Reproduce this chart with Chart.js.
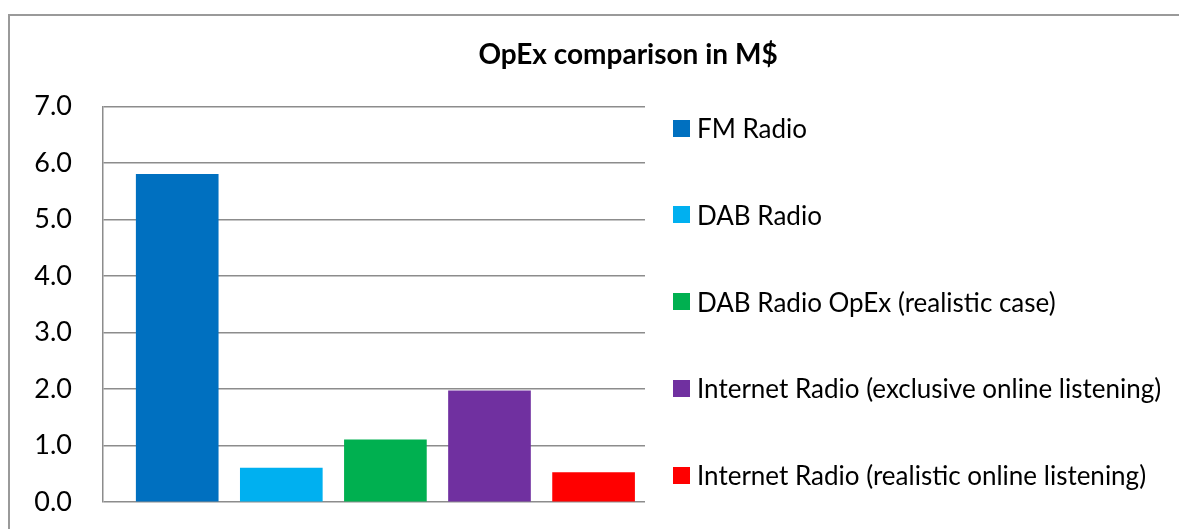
<!DOCTYPE html>
<html lang="en">
<head>
  <meta charset="UTF-8">
  <title>OpEx comparison in M$</title>
  <script src="https://cdn.jsdelivr.net/npm/chart.js@4.4.3/dist/chart.umd.min.js"></script>
  <style>
    html, body { margin: 0; padding: 0; overflow: hidden; background: #fff; }
    body { width: 1179px; height: 529px; position: relative; font-family: Lato, "Noto Sans", sans-serif; }
    #frame { position: absolute; left: 8px; top: 14px; width: 1300px; height: 600px; border-left: 2px solid #9a9a9a; border-top: 2px solid #9a9a9a; }
    #chart { position: absolute; left: 0; top: 0; }
    #legend { position: absolute; left: 673px; top: 0; }
    .item { position: absolute; left: 0; height: 30px; display: flex; align-items: center; white-space: nowrap; font-size: 26px; color: #000; }
    .swatch { width: 17px; height: 17px; margin-right: 7px; flex: none; }
  </style>
</head>
<body>
  <div id="frame"></div>
  <canvas id="chart" width="1266" height="529"></canvas>
  <div id="legend"></div>

  <script>
    // series (one bar each)
    const seriesNames = [
      'FM Radio',
      'DAB Radio',
      'DAB Radio OpEx (realistic case)',
      'Internet Radio (exclusive online listening)',
      'Internet Radio (realistic online listening)'
    ];
    const opexValues = [5.8, 0.6, 1.1, 1.97, 0.52];
    const seriesColors = ['#0070C0', '#00B0F0', '#00B050', '#7030A0', '#FF0000'];
    const yTickMin = 0;
    const yTickMax = 7;
    const yTickStep = 1;

    const datasets = seriesNames.map((name, i) => ({
      label: name,
      data: [{ x: i, y: opexValues[i] }],
      backgroundColor: seriesColors[i],
      borderWidth: 0,
      grouped: false,
      categoryPercentage: 1,
      barPercentage: 1,
      maxBarThickness: 82
    }));

    new Chart(document.getElementById('chart'), {
      type: 'bar',
      data: { datasets },
      options: {
        responsive: false,
        animation: false,
        layout: { padding: { left: 28, right: 38, top: 0, bottom: 27 } },
        scales: {
          x: {
            type: 'linear',
            display: false,
            offset: false,
            min: -0.713,
            max: 4.494,
            afterBuildTicks: axis => { axis.ticks = []; }
          },
          y: {
            min: yTickMin,
            max: yTickMax,
            afterFit: axis => {
              axis.width = 75;
              axis.paddingTop = 0;
              axis.paddingBottom = 0;
            },
            border: { display: true, color: '#8c8c8c', width: 1.5 },
            grid: { color: '#8c8c8c', lineWidth: 1.5, drawTicks: false },
            ticks: {
              stepSize: yTickStep,
              padding: 31,
              color: '#000',
              font: { family: 'Lato', size: 27 },
              callback: v => Number(v).toFixed(1)
            }
          },
          // empty space on the right where the legend sits
          legendSpace: {
            type: 'linear',
            position: 'right',
            display: true,
            grid: { display: false },
            border: { display: false },
            ticks: { display: false },
            afterFit: axis => { axis.width = 583; }
          }
        },
        plugins: {
          legend: { display: false },
          tooltip: { enabled: false },
          title: {
            display: true,
            text: 'OpEx comparison in M$',
            color: '#000',
            font: { family: 'Lato', size: 28, weight: 'bold' },
            padding: { top: 38, bottom: 35 }
          }
        }
      }
    });

    // legend on the right
    const legend = document.getElementById('legend');
    seriesNames.forEach((name, i) => {
      const row = document.createElement('div');
      row.className = 'item';
      row.style.top = (113 + i * 86.75) + 'px';
      const sw = document.createElement('span');
      sw.className = 'swatch';
      sw.style.background = seriesColors[i];
      const txt = document.createElement('span');
      txt.textContent = name;
      row.appendChild(sw);
      row.appendChild(txt);
      legend.appendChild(row);
    });
  </script>
</body>
</html>
